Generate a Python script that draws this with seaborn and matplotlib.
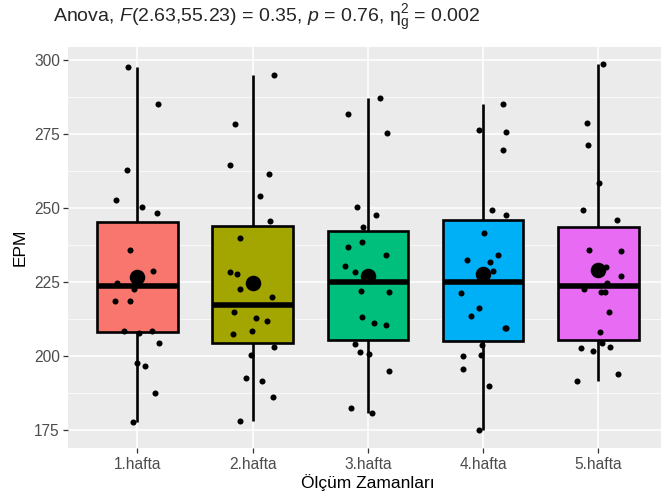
import numpy as np
import pandas as pd
import matplotlib.pyplot as plt
import seaborn as sns

weeks = ['1.hafta', '2.hafta', '3.hafta', '4.hafta', '5.hafta']
epm_1 = [297.7, 285.0, 262.8, 252.8, 250.5, 248.4, 235.7, 228.8, 224.7, 222.8, 218.6,
         218.5, 208.6, 207.9, 208.4, 204.5, 197.7, 196.7, 187.5, 177.7, 224.9, 225.0]
epm_2 = [295.0, 278.4, 264.7, 261.6, 254.0, 245.5, 239.9, 228.5, 227.8, 222.8, 219.8,
         214.7, 213.0, 211.7, 207.6, 208.5, 203.2, 200.3, 192.5, 191.7, 186.1, 178.0]
epm_3 = [287.1, 281.8, 275.2, 250.4, 247.6, 243.5, 238.6, 236.9, 234.3, 230.3, 228.4,
         221.8, 221.5, 213.2, 211.0, 210.5, 203.9, 201.3, 200.7, 194.9, 182.5, 180.8]
epm_4 = [285.0, 276.3, 275.8, 269.6, 249.5, 247.6, 241.6, 234.0, 232.4, 231.6, 228.8,
         221.2, 216.2, 213.6, 209.5, 209.5, 203.8, 200.1, 200.5, 195.7, 189.7, 175.0]
epm_5 = [298.6, 278.9, 271.4, 258.4, 249.4, 246.1, 235.7, 235.5, 230.1, 227.2, 224.7,
         222.7, 221.6, 214.7, 208.2, 204.4, 202.7, 201.7, 203.0, 193.9, 191.6, 221.7]

# horizontal jitter of each point (category units)
jit_1 = [-0.078, 0.182, -0.090, -0.182, 0.040, 0.167, -0.067, 0.135, -0.179, -0.029, -0.199,
         -0.067, -0.113, 0.014, 0.130, 0.191, -0.006, 0.066, 0.153, -0.041, 0.010, -0.020]
jit_2 = [0.182, -0.150, -0.196, 0.145, 0.064, 0.151, -0.113, -0.196, -0.139, -0.107, 0.171,
         -0.159, 0.029, 0.127, -0.167, -0.009, 0.182, -0.014, -0.061, 0.084, 0.179, -0.109]
jit_3 = [0.101, -0.173, 0.165, -0.093, 0.066, -0.041, -0.052, -0.177, 0.156, -0.203, -0.116,
         -0.064, 0.187, -0.055, 0.049, 0.153, -0.116, -0.067, 0.011, 0.185, -0.147, 0.035]
jit_4 = [0.173, -0.035, 0.196, 0.173, 0.078, 0.202, 0.005, 0.133, -0.139, 0.063, 0.087,
         -0.191, -0.035, -0.107, 0.190, 0.200, -0.006, -0.179, -0.017, -0.179, 0.055, -0.038]
jit_5 = [0.043, -0.095, -0.092, 0.009, -0.130, 0.165, -0.083, 0.194, 0.066, 0.194, 0.078,
         -0.127, 0.023, 0.095, 0.012, 0.035, -0.147, -0.049, 0.101, 0.171, -0.187, 0.060]

colors = ['#F8766D', '#A3A500', '#00BF7D', '#00B0F6', '#E76BF3']

frames = []
for i, (w, v, j) in enumerate(zip(weeks, [epm_1, epm_2, epm_3, epm_4, epm_5],
                                  [jit_1, jit_2, jit_3, jit_4, jit_5])):
    frames.append(pd.DataFrame({'week': w, 'EPM': v, 'xpos': i + np.array(j)}))
df = pd.concat(frames, ignore_index=True)
means = df.groupby('week', sort=False)['EPM'].mean()

sns.set_theme(style='darkgrid', rc={'axes.facecolor': '#EBEBEB', 'grid.color': 'white'})
plt.rcParams['font.family'] = ['Liberation Sans', 'DejaVu Sans']
plt.rcParams['mathtext.fontset'] = 'custom'
plt.rcParams['mathtext.rm'] = 'Liberation Sans'
plt.rcParams['mathtext.it'] = 'Liberation Sans:italic'

fig = plt.figure(figsize=(6.61, 5), dpi=100)
ax = fig.add_axes([68.3 / 661, 51.7 / 500, 599.2 / 661, 401.8 / 500])

sns.boxplot(data=df, x='week', y='EPM', hue='week', order=weeks, hue_order=weeks,
            palette=colors, saturation=1, width=0.7, linewidth=1.9, linecolor='black',
            showcaps=False, showfliers=False, medianprops={'linewidth': 4},
            legend=False, ax=ax)

# jittered raw points and group means
ax.scatter(df['xpos'], df['EPM'], s=19, color='black', linewidths=0, zorder=4)
ax.scatter(range(len(weeks)), means.values, s=125, color='black', linewidths=0, zorder=5)

ax.set_xlim(-0.6, 4.6)
ax.set_ylim(168.8, 304.6)
ax.set_yticks([175, 200, 225, 250, 275, 300])
ax.set_yticks([187.5, 212.5, 237.5, 262.5, 287.5], minor=True)
ax.grid(True, which='major', axis='both', color='white', linewidth=1.1)
ax.grid(True, which='minor', axis='y', color='white', linewidth=0.5)
ax.set_axisbelow(True)
for s in ax.spines.values():
    s.set_visible(False)
ax.tick_params(axis='both', which='major', length=3.5, width=0.9, color='#333333',
               labelcolor='#4D4D4D', labelsize=11.2, pad=2.5, bottom=True, left=True)
ax.tick_params(axis='y', which='minor', length=0)

ax.set_xlabel('Ölçüm Zamanları', fontsize=12.5, color='black', labelpad=2)
ax.set_ylabel('EPM', fontsize=12.5, color='black', labelpad=5)

fig.text(53 / 661, 1 - 18 / 500,
         r'Anova, $\mathit{F}$(2.63,55.23) = 0.35, $\mathit{p}$ = 0.76, $\mathrm{\eta}^2_\mathrm{g}$ = 0.002',
         fontsize=14, va='center', ha='left')

fig.savefig('out.png', dpi=100)
